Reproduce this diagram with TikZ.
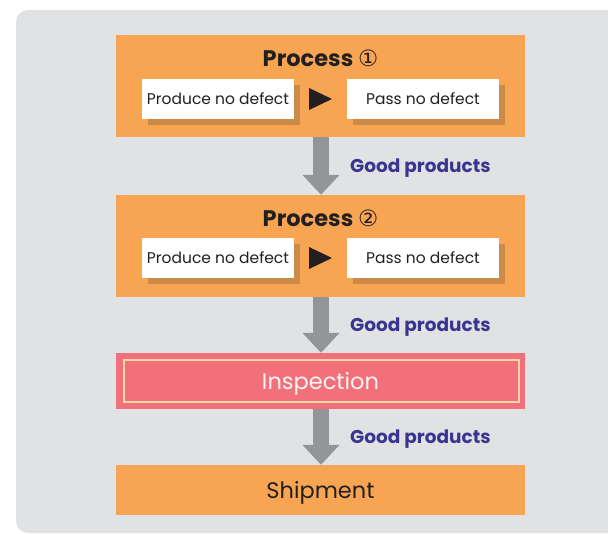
\documentclass[tikz,border=0pt]{standalone}
\usepackage{fontspec}
\setmainfont{Poppins}
\newfontfamily\symfont{DejaVu Sans}
\usetikzlibrary{arrows.meta}
\definecolor{bggray}{HTML}{E1E2E4}
\definecolor{procor}{HTML}{F7A553}
\definecolor{shadowor}{HTML}{CC8A48}
\definecolor{arrgray}{HTML}{939598}
\definecolor{labblue}{HTML}{3A3590}
\definecolor{insppink}{HTML}{F2707A}
\definecolor{inspline}{HTML}{FDD7A8}
\definecolor{darktext}{HTML}{231F20}
\tikzset{
  procbox/.style={fill=procor, minimum width=409pt, inner sep=0pt, text=darktext},
  whitebox/.style={fill=white, minimum width=152pt, minimum height=40pt, inner sep=0pt, text=darktext, font=\fontsize{15.5}{17}\selectfont},
  titletext/.style={text=darktext, font=\fontsize{22.5}{25}\selectfont\bfseries, inner sep=0pt},
  goodlab/.style={text=labblue, font=\fontsize{18.5}{20}\selectfont\bfseries, anchor=west, inner sep=0pt},
  flowarrow/.style={draw=arrgray, line width=16pt, -{Triangle[width=36pt,length=20pt]}},
  shadowfill/.style={fill=shadowor},
  bigtext/.style={font=\fontsize{22.5}{25}\selectfont, inner sep=0pt},
}
\begin{document}
\begin{tikzpicture}[x=1pt,y=-1pt]
\useasboundingbox (0,0) rectangle (608,534);
\clip (0,0) rectangle (608,534);
\fill[bggray, rounded corners=12pt] (16,10) rectangle (640,533);

% Process 1
\node[procbox, minimum height=102pt] (p1) at (320.5,86) {};
\node[titletext] (t1) at (320.5,58) {Process {\symfont\mdseries ①}};
\fill[shadowfill] (148,85) rectangle (300,125);
\fill[shadowfill] (353,85) rectangle (505,125);
\node[whitebox] (a1) at (218,99) {\raisebox{-1pt}{Produce no defect}};
\node[whitebox] (b1) at (423,99) {\raisebox{-1pt}{Pass no defect}};
\fill[darktext] (309,88) -- (309,110) -- (332,99) -- cycle;

% Process 2
\node[procbox, minimum height=102pt] (p2) at (320.5,246) {};
\node[titletext] (t2) at (320.5,218) {Process {\symfont\mdseries ②}};
\fill[shadowfill] (148,244) rectangle (300,284);
\fill[shadowfill] (353,244) rectangle (505,284);
\node[whitebox] (a2) at (218,258) {\raisebox{-1pt}{Produce no defect}};
\node[whitebox] (b2) at (423,258) {\raisebox{-1pt}{Pass no defect}};
\fill[darktext] (309,247) -- (309,269) -- (332,258) -- cycle;

% Inspection
\node[procbox, fill=insppink, minimum height=56pt] (insp) at (320.5,381) {};
\draw[inspline, line width=2pt] (123.5,360.5) rectangle (518.5,402.5);
\node[bigtext, text=white!92!insppink] (insptext) at (320.5,383.5) {Inspection};

% Shipment
\node[procbox, minimum height=50pt] (ship) at (320.5,490) {};
\node[bigtext, text=darktext] (shiptext) at (320.5,492.5) {Shipment};

% Arrows
\draw[flowarrow] ([xshift=0.5pt]p1.south) -- ([xshift=0.5pt]p2.north);
\draw[flowarrow] ([xshift=0.5pt]p2.south) -- ([xshift=0.5pt]insp.north);
\draw[flowarrow] ([xshift=0.5pt]insp.south) -- ([xshift=0.5pt]ship.north);

% Labels
\node[goodlab] (g1) at (350,168.5) {Good products};
\node[goodlab] (g2) at (350,327.5) {Good products};
\node[goodlab] (g3) at (350,439.5) {Good products};
\end{tikzpicture}
\end{document}
